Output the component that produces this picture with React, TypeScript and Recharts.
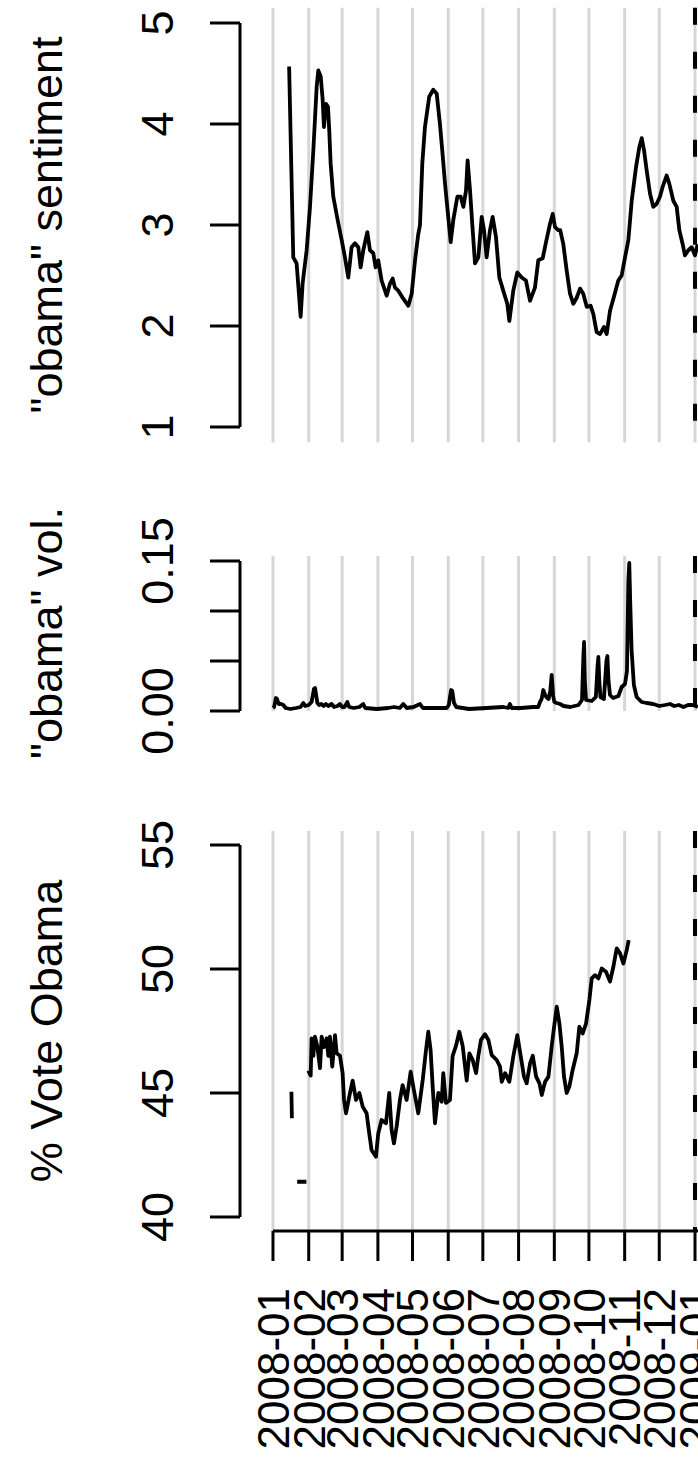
import { Line, LineChart, ReferenceLine, XAxis, YAxis } from "recharts";

const FONT = "'Liberation Sans', Arial, Helvetica, sans-serif";

// month boundaries as day-of-year (2008 is a leap year)
const monthDays = [0, 31, 60, 91, 121, 152, 182, 213, 244, 274, 305, 335, 366];
const monthLabels = [
  "2008-01", "2008-02", "2008-03", "2008-04", "2008-05", "2008-06", "2008-07",
  "2008-08", "2008-09", "2008-10", "2008-11", "2008-12", "2009-01",
];
const X_MIN = -28.6;
const X_MAX = 368.6;

// "obama" sentiment
const sentimentDay = [
  14, 17.6, 20.5, 24, 25.7, 29.2, 32.1, 35, 37.9, 39.3, 41.4, 43.1, 44.2, 46, 47.7, 48.8, 50, 52.3, 56.6, 59.6,
  62.4, 65.3, 68.2, 71.1, 74, 76, 78.3, 81.8, 84.1, 87, 89, 91.3, 94.2, 98.6, 101.5, 103.8, 105.8, 108.7, 113,
  117.4, 120.3, 123.2, 126, 127.5, 129.5, 131.8, 135.5, 139, 142, 144.8, 146.8, 149.2, 152, 154.1, 156.4, 159.9,
  162.8, 165.1, 167.4, 168.8, 170.9, 173.2, 175.2, 178.1, 181, 183, 185.3, 188.2, 190.5, 193.4, 196.3, 199.7,
  203.2, 205, 208.4, 211.9, 215.7, 219.4, 222.9, 227.2, 230.1, 233.9, 236.8, 240.2, 242.6, 244.6, 247.4, 249.1,
  251.8, 254.7, 257.6, 260.5, 263.4, 266.3, 269.1, 272.1, 275.5, 277.8, 280.7, 283.6, 287.1, 289.4, 292.3, 295.7,
  299.5, 302.4, 305.3, 308.2, 311.1, 314.8, 317.7, 319.8, 321.8, 324.1, 327, 329.8, 332.8, 335.6, 338, 341.4,
  343.7, 347.2, 350.1, 352.4, 355.3, 357.3, 360.2, 363.1, 366, 368.4,
];
const sentimentValue = [
  4.57, 2.68, 2.62, 2.09, 2.42, 2.75, 3.18, 3.74, 4.37, 4.53, 4.47, 4.24, 3.97, 4.2, 4.17, 3.94, 3.61, 3.28, 3.02, 2.85,
  2.68, 2.48, 2.78, 2.82, 2.78, 2.58, 2.75, 2.93, 2.75, 2.72, 2.58, 2.65, 2.45, 2.3, 2.42, 2.47, 2.38, 2.35, 2.27,
  2.2, 2.32, 2.65, 2.91, 3.0, 3.61, 3.97, 4.27, 4.34, 4.3, 4.0, 3.74, 3.41, 3.08, 2.83, 3.05, 3.28,
  3.28, 3.18, 3.34, 3.64, 3.34, 2.95, 2.62, 2.68, 3.08, 2.95, 2.68, 2.95, 3.08, 2.88, 2.48, 2.35,
  2.22, 2.05, 2.35, 2.53, 2.48, 2.45, 2.25, 2.38, 2.65, 2.67, 2.83, 3.01, 3.11, 2.98, 2.95, 2.95,
  2.81, 2.55, 2.32, 2.22, 2.28, 2.37, 2.32, 2.19, 2.2, 2.12, 1.94, 1.92, 1.99, 1.92, 2.15, 2.29,
  2.45, 2.5, 2.68, 2.85, 3.24, 3.57, 3.77, 3.86, 3.74, 3.54, 3.31, 3.18, 3.21, 3.28, 3.38, 3.49,
  3.41, 3.24, 3.18, 2.95, 2.81, 2.7, 2.75, 2.78, 2.7, 2.81,
];

// "obama" volume
const volumeDay = [
  0, 1, 2.5, 3.5, 5, 7, 9, 11, 15, 20, 24, 26.3, 28, 31, 33.5, 35.5, 36.5, 38.5, 40, 42, 44, 45.8, 48, 50.9, 53, 56,
  58, 60, 62, 64.5, 66, 70, 75, 78.3, 80, 90, 100, 105, 110, 113, 116, 122, 127.5, 130, 140, 150.6, 152.5, 153.5,
  154.5, 155.5, 157, 159, 170, 185, 199.7, 204, 205.5, 207, 215, 225.8, 230, 231.6, 233, 234.4, 236, 237, 239,
  240.5, 241.7, 243, 244, 246, 249, 252, 258, 265, 268, 269.2, 269.8, 270.5, 271.5, 276.5, 280, 281.5, 282.2, 283,
  284, 287, 289.2, 290, 291, 292.3, 295, 299.6, 302.4, 305.3, 307, 308.2, 309, 309.8, 311, 313, 315.4, 319.7, 324,
  329.8, 335, 340, 344.3, 348, 352, 356, 360, 364.5, 368.5,
];
const volumeValue = [
  0.003, 0.004, 0.013, 0.012, 0.007, 0.007, 0.006, 0.003, 0.002, 0.003, 0.004, 0.008, 0.005, 0.006, 0.009, 0.022,
  0.023, 0.008, 0.006, 0.007, 0.005, 0.007, 0.005, 0.007, 0.004, 0.005, 0.007, 0.004, 0.004, 0.009, 0.004, 0.003,
  0.004, 0.007, 0.003, 0.002, 0.003, 0.004, 0.003, 0.007, 0.003, 0.004, 0.007, 0.003, 0.003, 0.003, 0.006, 0.014,
  0.021, 0.02, 0.008, 0.004, 0.002, 0.003, 0.004, 0.003, 0.007, 0.003, 0.003, 0.004, 0.004, 0.009, 0.012, 0.021,
  0.016, 0.014, 0.012, 0.02, 0.036, 0.015, 0.009, 0.008, 0.007, 0.005, 0.004, 0.006, 0.011, 0.055, 0.069, 0.03,
  0.011, 0.01, 0.014, 0.045, 0.054, 0.03, 0.014, 0.012, 0.05, 0.055, 0.03, 0.016, 0.013, 0.015, 0.024, 0.027, 0.04,
  0.13, 0.148, 0.11, 0.061, 0.026, 0.014, 0.009, 0.008, 0.007, 0.005, 0.006, 0.007, 0.005, 0.006, 0.004, 0.006,
  0.006, 0.004,
];

// % vote Obama (null = gap in the poll series)
const voteDay = [
  16, 16.4, 18, 21, 29, 29.8, 30.6, 32.7, 33.5, 35, 36.4, 38.4, 40.8, 42.2, 44.2, 46.5, 48, 49.4, 51.4, 53.8, 55.2,
  58.1, 60.4, 61.6, 63.3, 66.8, 69.1, 72, 74.9, 77.8, 81.2, 83.5, 85.5, 89.3, 91.3, 94.2, 98, 100.8, 102.9, 104.9,
  107.2, 110.1, 112.4, 115.9, 119.4, 122.2, 126, 129.8, 132.7, 134.7, 136.7, 138.5, 140.5, 143.4, 146.3, 147.7, 150,
  153.5, 155.8, 158.7, 161.6, 164.5, 168, 170.3, 173.2, 176.1, 178.1, 180.4, 183.9, 186.8, 189.7, 194, 196.9, 198.4,
  201.3, 205, 208.5, 211.9, 214.8, 217.7, 220, 223, 225.3, 228.2, 231.1, 233.1, 236, 238.9, 241.7, 243.8, 246.1,
  248.4, 250.4, 252.4, 254.7, 257, 259.9, 263.4, 265.7, 268.6, 271.5, 274.4, 276.4, 279.3, 282.2, 285.1, 288.8,
  292.3, 295.2, 298.1, 301, 303.9, 306.8, 308.5,
];
const voteValue: (number | null)[] = [
  45.05, 43.98, null, 41.42, 41.42, null, 45.9, 45.7, 47.2, 46.5, 47.27, 46.9, 46.0, 47.27, 46.85, 47.2, 46.5, 47.27,
  46.06, 47.33, 46.6, 46.5, 45.8, 44.72, 44.18, 45.0, 45.5, 44.72, 45.0, 44.45, 44.18, 43.37, 42.7, 42.43, 43.37,
  43.91, 43.78, 45.0, 43.5, 42.97, 43.64, 44.72, 45.32, 44.72, 45.86, 45.12, 44.18, 45.5, 46.73, 47.47, 46.73,
  45.26, 43.78, 45.0, 44.65, 45.8, 44.6, 44.72, 46.5, 46.9, 47.47, 46.9, 45.5, 46.6, 46.33, 45.8, 46.5, 47.14,
  47.37, 47.14, 46.53, 46.33, 46.06, 45.45, 45.8, 45.45, 46.5, 47.33, 46.5, 45.66, 45.39, 46.2, 46.5, 45.66,
  45.39, 44.92, 45.45, 45.66, 46.87, 47.67, 48.48, 47.8, 46.87, 45.66, 45.0, 45.26, 45.93, 46.6, 47.67, 47.4,
  47.8, 48.75, 49.62, 49.75, 49.62, 50.02, 49.89, 49.49, 50.09, 50.83, 50.63, 50.22, 50.76, 51.16,
];

const toRows = (days: number[], values: (number | null)[]) => days.map((day, i) => ({ day, v: values[i] }));

function XTick(props: any) {
  const { x, y, payload } = props;
  const idx = monthDays.indexOf(payload.value);
  return (
    <text x={x} y={y} dy="0.36em" transform={`rotate(-90 ${x} ${y})`} textAnchor="end" fontSize={44} fontFamily={FONT} fill="#000">
      {monthLabels[idx]}
    </text>
  );
}

function makeYTick(fmt: (v: number) => string) {
  return (props: any) => {
    const { x, y, payload } = props;
    return (
      <text x={x} y={y} transform={`rotate(-90 ${x} ${y})`} textAnchor="middle" fontSize={45} fontFamily={FONT} fill="#000">
        {fmt(payload.value)}
      </text>
    );
  };
}

interface PanelProps {
  top: number;
  height: number;
  marginTop: number;
  marginBottom: number;
  data: { day: number; v: number | null }[];
  domain: [number, number];
  ticks: number[];
  fmt: (v: number) => string;
  gridTop: number;
  gridBottom: number;
  label: string;
  labelY: number;
  showX?: boolean;
}

function Panel({ top, height, marginTop, marginBottom, data, domain, ticks, fmt, gridTop, gridBottom, label, labelY, showX }: PanelProps) {
  return (
    <div style={{ position: "absolute", left: 0, top }}>
      <LineChart width={698} height={height} data={data} margin={{ top: marginTop, right: 0, bottom: marginBottom, left: 140 }}>
        <XAxis
          type="number"
          dataKey="day"
          domain={[X_MIN, X_MAX]}
          allowDataOverflow
          hide={!showX}
          height={showX ? 237 : 0}
          ticks={monthDays}
          interval={0}
          axisLine={false}
          stroke="#000"
          tickSize={30}
          tickMargin={27}
          tickLine={{ strokeWidth: 3 }}
          tick={(p: any) => <XTick {...p} />}
        />
        <YAxis
          type="number"
          domain={domain}
          allowDataOverflow
          ticks={ticks}
          interval={0}
          width={100}
          axisLine={false}
          stroke="#000"
          tickSize={30}
          tickMargin={37}
          tickLine={{ strokeWidth: 3 }}
          tick={makeYTick(fmt)}
          label={{
            content: () => (
              <text x={62} y={labelY} transform={`rotate(-90 62 ${labelY})`} textAnchor="middle" fontSize={45} fontFamily={FONT} fill="#000">
                {label}
              </text>
            ),
          }}
        />
        {monthDays.map((d) => (
          <ReferenceLine
            key={`g${d}`}
            segment={[{ x: d, y: gridTop }, { x: d, y: gridBottom }]}
            stroke="#d6d6d6"
            strokeWidth={3}
            ifOverflow="visible"
          />
        ))}
        <ReferenceLine
          segment={[{ x: 366, y: gridTop }, { x: 366, y: gridBottom }]}
          stroke="#000"
          strokeWidth={4}
          strokeDasharray="17 27"
          ifOverflow="visible"
        />
        <ReferenceLine
          segment={[{ x: X_MIN, y: ticks[0] }, { x: X_MIN, y: ticks[ticks.length - 1] }]}
          stroke="#000"
          strokeWidth={3}
          ifOverflow="visible"
        />
        {showX && (
          <ReferenceLine
            segment={[{ x: 0, y: domain[0] }, { x: X_MAX, y: domain[0] }]}
            stroke="#000"
            strokeWidth={3}
            ifOverflow="visible"
          />
        )}
        <Line type="linear" dataKey="v" stroke="#000" strokeWidth={3.8} strokeLinejoin="round" dot={false} isAnimationActive={false} connectNulls={false} />
      </LineChart>
    </div>
  );
}

export default function App() {
  return (
    <div style={{ position: "absolute", left: 0, top: 0, width: 698, height: 1468, overflow: "hidden", background: "#fff" }}>
      <Panel
        top={0}
        height={455}
        marginTop={23}
        marginBottom={28}
        data={toRows(sentimentDay, sentimentValue)}
        domain={[1, 5]}
        ticks={[1, 2, 3, 4, 5]}
        fmt={(v) => String(v)}
        gridTop={5.15}
        gridBottom={0.85}
        label={'"obama" sentiment'}
        labelY={225}
      />
      <Panel
        top={460}
        height={330}
        marginTop={101}
        marginBottom={79}
        data={toRows(volumeDay, volumeValue)}
        domain={[0, 0.15]}
        ticks={[0, 0.05, 0.1, 0.15]}
        fmt={(v) => (v === 0 ? "0.00" : v === 0.15 ? "0.15" : "")}
        gridTop={0.155}
        gridBottom={0}
        label={'"obama" vol.'}
        labelY={173}
      />
      <Panel
        top={790}
        height={678}
        marginTop={55}
        marginBottom={0}
        data={toRows(voteDay, voteValue)}
        domain={[39.435, 55]}
        ticks={[40, 45, 50, 55]}
        fmt={(v) => String(v)}
        gridTop={55.56}
        gridBottom={39.435}
        label="% Vote Obama"
        labelY={241}
        showX
      />
    </div>
  );
}
